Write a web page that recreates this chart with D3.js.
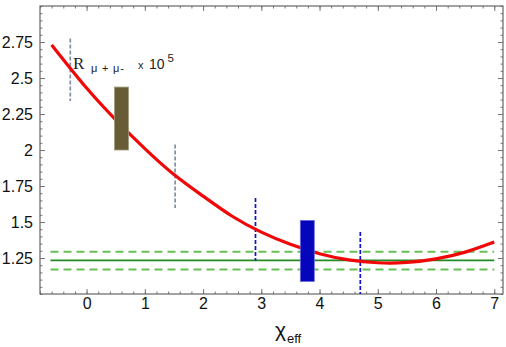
<!DOCTYPE html>
<html>
<head>
<meta charset="utf-8">
<script src="https://cdn.jsdelivr.net/npm/d3@7"></script>
<style>
  body { margin: 0; background: #fff; }
  .axis text { font-family: "Liberation Sans", Arial, sans-serif; font-size: 16px; fill: #111; }
  .axis line { stroke: #777; }
  .axis path { display: none; }
</style>
</head>
<body>
<svg id="chart" width="506" height="347"></svg>
<script>
// red theory curve
const curveX = [-0.6, 0, 0.5, 1, 1.5, 2, 2.5, 3, 3.5, 4, 4.5, 5, 5.5, 6, 6.5, 7];
const curveY = [2.73, 2.43, 2.21, 2.01, 1.83, 1.68, 1.54, 1.43, 1.345, 1.28, 1.237, 1.217, 1.219, 1.244, 1.291, 1.361];

// measured band (green)
const bandX = [-0.62, 7.0];
const bandCentral = 1.233;
const bandLow = 1.17;
const bandHigh = 1.293;

// vertical dashed error bars
const errX = [-0.28, 1.52, 2.9, 4.7];
const errLo = [2.34, 1.598, 1.233, 1.0];
const errHi = [2.774, 2.038, 1.667, 1.43];
const errColor = ["#8090a4", "#8090a4", "#1010d0", "#1010d0"];

// filled boxes
const boxX0 = [0.48, 3.67];
const boxX1 = [0.72, 3.91];
const boxLo = [2.0, 1.087];
const boxHi = [2.437, 1.511];
const boxColor = ["#675c36", "#0505bb"];
const boxStroke = ["#a09a7a", "#6a6ae0"];

const xTicks = [0, 1, 2, 3, 4, 5, 6, 7];
const yTicks = [1.25, 1.5, 1.75, 2, 2.25, 2.5, 2.75];

const svg = d3.select("#chart");
const mLeft = 40, mRight = 503, mTop = 6, mBottom = 294;

const x = d3.scaleLinear().domain([-0.8, 7.15]).range([mLeft, mRight]);
const y = d3.scaleLinear().domain([1.0, 3.0]).range([mBottom, mTop]);

const xMinor = d3.range(-0.8, 7.15, 0.2).map(v => Math.round(v * 10) / 10);
const yMinor = d3.range(1.0, 3.001, 0.05).map(v => Math.round(v * 100) / 100);

// minor ticks on four sides
svg.append("g").attr("class", "axis").attr("transform", `translate(0,${mBottom})`)
  .call(d3.axisBottom(x).tickValues(xMinor).tickSize(-2.5).tickFormat(""));
svg.append("g").attr("class", "axis").attr("transform", `translate(0,${mTop})`)
  .call(d3.axisTop(x).tickValues(xMinor).tickSize(-2.5).tickFormat(""));
svg.append("g").attr("class", "axis").attr("transform", `translate(${mLeft},0)`)
  .call(d3.axisLeft(y).tickValues(yMinor).tickSize(-2.5).tickFormat(""));
svg.append("g").attr("class", "axis").attr("transform", `translate(${mRight},0)`)
  .call(d3.axisRight(y).tickValues(yMinor).tickSize(-2.5).tickFormat(""));

// major ticks
svg.append("g").attr("class", "axis").attr("transform", `translate(0,${mBottom})`)
  .call(d3.axisBottom(x).tickValues(xTicks).tickSize(-5).tickPadding(4).tickFormat(d => String(d)));
svg.append("g").attr("class", "axis").attr("transform", `translate(0,${mTop})`)
  .call(d3.axisTop(x).tickValues(xTicks).tickSize(-5).tickFormat(""));
svg.append("g").attr("class", "axis").attr("transform", `translate(${mLeft},0)`)
  .call(d3.axisLeft(y).tickValues(yTicks).tickSize(-5).tickPadding(7).tickFormat(d => String(d)));
svg.append("g").attr("class", "axis").attr("transform", `translate(${mRight},0)`)
  .call(d3.axisRight(y).tickValues(yTicks).tickSize(-5).tickFormat(""));

// frame
svg.append("rect")
  .attr("x", mLeft).attr("y", mTop)
  .attr("width", mRight - mLeft).attr("height", mBottom - mTop)
  .attr("fill", "none").attr("stroke", "#666").attr("stroke-width", 1.2);

// green band
const bandLine = d3.line().x(d => x(d[0])).y(d => y(d[1]));
[[bandHigh, "8,5", "#66c055", 2], [bandLow, "8,5", "#66c055", 2], [bandCentral, null, "#238a23", 1.8]]
  .forEach(b => {
    svg.append("path")
      .attr("d", bandLine(bandX.map(v => [v, b[0]])))
      .attr("fill", "none")
      .attr("stroke", b[2])
      .attr("stroke-width", b[3])
      .attr("stroke-dasharray", b[1]);
  });

// dashed error bars
svg.selectAll(".err").data(errX).enter().append("line")
  .attr("class", "err")
  .attr("x1", d => x(d)).attr("x2", d => x(d))
  .attr("y1", (d, i) => y(errHi[i])).attr("y2", (d, i) => y(errLo[i]))
  .attr("stroke", (d, i) => errColor[i])
  .attr("stroke-width", 1.7)
  .attr("stroke-dasharray", "4,2");

// red curve
svg.append("path")
  .datum(curveX.map((v, i) => [v, curveY[i]]))
  .attr("d", d3.line().x(d => x(d[0])).y(d => y(d[1])).curve(d3.curveNatural))
  .attr("fill", "none")
  .attr("stroke", "#f00808")
  .attr("stroke-width", 3.2);

// boxes
svg.selectAll(".box").data(boxX0).enter().append("rect")
  .attr("class", "box")
  .attr("x", d => x(d))
  .attr("width", (d, i) => x(boxX1[i]) - x(d))
  .attr("y", (d, i) => y(boxHi[i]))
  .attr("height", (d, i) => y(boxLo[i]) - y(boxHi[i]))
  .attr("fill", (d, i) => boxColor[i])
  .attr("stroke", (d, i) => boxStroke[i])
  .attr("stroke-width", 0.8);

// label inside plot
const sans = "Liberation Sans, Arial, sans-serif";
svg.append("text").attr("x", 73).attr("y", 68.5).attr("fill", "#222")
  .attr("font-family", "Liberation Serif, serif").attr("font-size", 17).text("R");
svg.append("text").attr("x", 91).attr("y", 71.5).attr("fill", "#222")
  .attr("font-family", sans).attr("font-size", 11).attr("letter-spacing", 0.8).text("μ + μ-");
svg.append("text").attr("x", 138).attr("y", 68.5).attr("fill", "#222")
  .attr("font-family", sans).attr("font-size", 11).text("x");
svg.append("text").attr("x", 149).attr("y", 68.5).attr("fill", "#222")
  .attr("font-family", sans).attr("font-size", 14).text("10");
svg.append("text").attr("x", 167.5).attr("y", 62).attr("fill", "#222")
  .attr("font-family", sans).attr("font-size", 11.5).text("5");

// x axis title
svg.append("text").attr("x", 275).attr("y", 337).attr("fill", "#111")
  .attr("font-family", sans).attr("font-size", 21).text("χ");
svg.append("text").attr("x", 287).attr("y", 342.5).attr("fill", "#111")
  .attr("font-family", sans).attr("font-size", 13).text("eff");
</script>
</body>
</html>
